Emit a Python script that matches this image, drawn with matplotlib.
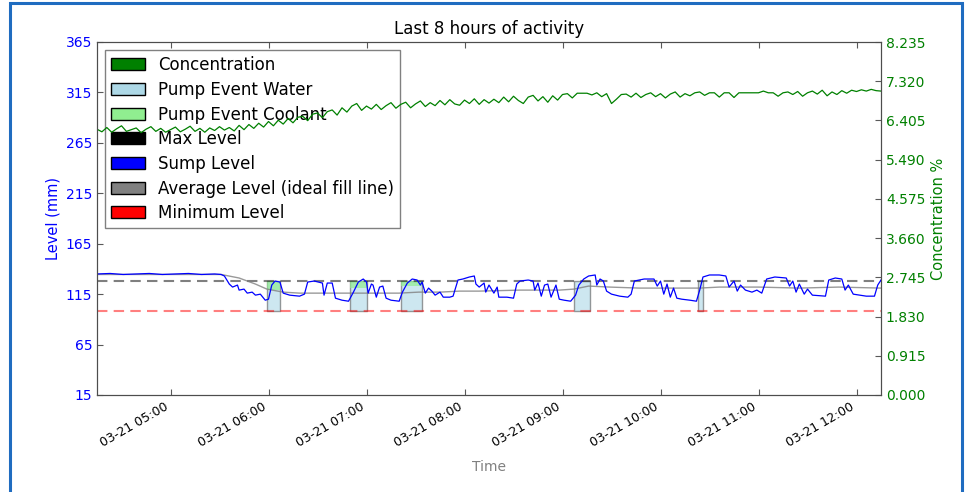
import numpy as np
import matplotlib
matplotlib.use('Agg')
import matplotlib.pyplot as plt
import matplotlib.dates as mdates
from matplotlib.patches import Patch, Rectangle

# ---------------- data ----------------
start_time = np.datetime64('2017-03-21T04:15')

# sump level knots (minutes after 04:15, mm)
sump_minutes = [0, 8, 16, 24, 32, 40, 48, 56, 64, 72, 76, 78, 81, 83, 86, 87, 90, 92, 95, 97,
                100, 103, 105, 107, 109, 112, 114, 118, 124, 127, 129, 133, 138, 139, 141, 144,
                146, 150, 154, 157, 160, 163, 165, 166, 168, 169, 171, 173, 175, 177, 180, 185,
                187, 190, 193, 196, 198, 199, 201, 203, 205, 207, 210, 212, 216, 218, 221, 224,
                228, 231, 232, 234, 237, 238, 240, 243, 245, 246, 251, 255, 257, 259, 264, 267,
                268, 270, 272, 274, 276, 278, 281, 283, 286, 290, 293, 295, 298, 301, 305, 306,
                308, 310, 312, 315, 320, 325, 327, 329, 335, 341, 343, 345, 347, 349, 351, 353,
                355, 358, 363, 367, 369, 371, 375, 381, 385, 387, 390, 392, 394, 397, 401, 404,
                407, 410, 415, 422, 424, 426, 428, 430, 433, 435, 438, 446, 448, 452, 456, 458,
                460, 463, 467, 471, 476, 478, 480]
sump_level = [135, 135.5, 134.5, 135, 135.5, 134.5, 135, 135.5, 134.5, 135, 134.5, 133, 125, 122,
              124, 119, 120, 116, 117, 114, 115, 109, 110, 124, 128, 127, 116, 114, 113, 115, 127,
              128, 126, 114, 126, 126, 111, 109, 108, 117, 127, 130, 127, 116, 125, 124, 112, 122,
              123, 111, 109, 108, 117, 126, 130, 129, 124, 127, 116, 121, 118, 114, 117, 112, 112,
              113, 129, 130, 132, 133, 125, 122, 126, 117, 124, 116, 122, 112, 112, 111, 125, 128,
              129, 128, 119, 126, 113, 124, 125, 112, 124, 110, 109, 108, 114, 124, 130, 133, 134,
              124, 130, 128, 118, 115, 113, 112, 115, 128, 130, 130, 123, 128, 115, 125, 112, 121,
              111, 110, 109, 108, 119, 132, 134, 134, 133, 122, 128, 118, 124, 119, 117, 119, 116,
              130, 132, 131, 123, 128, 117, 125, 115, 120, 114, 113, 129, 131, 130, 119, 124, 115,
              114, 113, 113, 124, 129]

# average level (ideal fill line) knots
avg_minutes = [0, 76, 87, 97, 104, 114, 124, 142, 155, 173, 185, 197, 210, 222, 234, 259, 283,
               292, 301, 314, 332, 356, 369, 381, 405, 430, 454, 480]
avg_level = [134.5, 134.5, 131, 125, 120, 117, 116, 116, 116, 116, 116, 117, 117, 118, 118, 119,
             119, 120, 123, 122, 121, 121, 121, 122, 122, 121, 122, 121]

max_level = 128
min_level = 98

# concentration %, one reading every 3 minutes from 04:15
conc_step_minutes = 3
concentration = [
    6.20, 6.14, 6.24, 6.13, 6.21, 6.28, 6.15, 6.19, 6.23, 6.12, 6.20, 6.26, 6.15, 6.22, 6.13,
    6.19, 6.25, 6.14, 6.20, 6.27, 6.15, 6.22, 6.13, 6.23, 6.17, 6.26, 6.18,
    6.24, 6.16, 6.29, 6.19, 6.31, 6.22, 6.34, 6.25, 6.38, 6.28, 6.41, 6.32, 6.45, 6.35, 6.48,
    6.50, 6.40, 6.55, 6.58, 6.47, 6.61, 6.65, 6.53, 6.70,
    6.60, 6.74, 6.80, 6.64, 6.74, 6.67, 6.78, 6.66, 6.75, 6.82, 6.69, 6.78, 6.83, 6.70, 6.79,
    6.86, 6.73, 6.82, 6.75, 6.87, 6.77, 6.89, 6.79, 6.76, 6.88, 6.80, 6.91, 6.78, 6.89, 6.81,
    6.90, 6.82, 6.95, 6.84, 6.97, 6.87, 6.80, 6.95, 6.99, 6.86, 6.96, 6.83, 6.98, 6.88, 7.01,
    7.03, 6.93, 7.04, 7.04, 7.04,
    7.00, 7.05, 6.96, 7.03, 6.80, 6.90, 7.01, 7.02, 6.95, 7.04, 6.94, 7.01, 7.05, 6.96, 7.03,
    6.93, 7.02, 7.07, 6.95, 7.03,
    6.98, 7.05, 7.07, 6.99, 7.05, 7.05, 6.95, 7.05, 7.05, 6.94, 7.05, 7.05, 7.05, 7.05, 7.05,
    7.09, 7.05, 7.05, 6.97, 7.05,
    7.07, 7.01, 7.08, 6.97, 7.05, 7.09, 7.02, 7.11, 6.98, 7.07, 7.01, 7.10, 7.04, 7.11, 7.08,
    7.12, 7.09, 7.13, 7.10, 7.09]

# pump events (minutes after 04:15)
water_start = [104, 155, 186, 292, 368]
water_end = [112, 165, 199, 302, 371]
coolant_start = [104, 155, 186]
coolant_end = [112, 165, 199]
coolant_low = [119, 121, 123]

level_ticks = [15, 65, 115, 165, 215, 265, 315, 365]
conc_ticks = [0.000, 0.915, 1.830, 2.745, 3.660, 4.575, 5.490, 6.405, 7.320, 8.235]
window_minutes = 480

legend_labels = ['Concentration', 'Pump Event Water', 'Pump Event Coolant', 'Max Level',
                 'Sump Level', 'Average Level (ideal fill line)', 'Minimum Level']
legend_colors = ['green', 'lightblue', 'lightgreen', 'black', 'blue', 'grey', 'red']


def to_time(mins):
    return start_time + (np.array(mins) * 60).astype('timedelta64[s]')


# ---------------- figure ----------------
fig = plt.figure(figsize=(9.66, 4.92), dpi=100)
ax1 = fig.add_axes([97 / 966, 1 - 395 / 492, (881 - 97) / 966, (395 - 42) / 492])
ax2 = ax1.twinx()

t0 = to_time([0])[0]
t1 = to_time([window_minutes])[0]

# pump events
for s, e in zip(water_start, water_end):
    ax1.fill_between(to_time([s, e]), [min_level, min_level], [max_level, max_level],
                     facecolor='lightblue', edgecolor='0.35', alpha=0.6, linewidth=1.0, zorder=1)
for s, e, lo in zip(coolant_start, coolant_end, coolant_low):
    ax1.fill_between(to_time([s, e]), [lo, lo], [max_level, max_level],
                     facecolor='lightgreen', edgecolor='none', alpha=0.7, linewidth=0, zorder=1.5)

ax1.plot([t0, t1], [max_level, max_level], color='black', alpha=0.5, linestyle='--',
         dashes=(5, 3), linewidth=1.5, zorder=2)
ax1.plot([t0, t1], [min_level, min_level], color='red', alpha=0.5, linestyle='--',
         dashes=(5, 3), linewidth=1.5, zorder=2)
ax1.plot(to_time(avg_minutes), avg_level, color='grey', alpha=0.8, linewidth=1.0, zorder=2.5)
ax1.plot(to_time(sump_minutes), sump_level, color='blue', linewidth=0.9, zorder=3)

conc_minutes = np.arange(len(concentration)) * conc_step_minutes
ax2.plot(to_time(conc_minutes), concentration, color='green', linewidth=0.9)

# axes setup
ax1.set_xlim(t0, t1)
ax1.set_ylim(15, 365)
ax1.set_yticks(level_ticks)
ax2.set_ylim(0, 8.235)
ax2.set_yticks(conc_ticks)
ax2.set_yticklabels(['%.3f' % v for v in conc_ticks])

ax1.xaxis.set_major_locator(mdates.HourLocator())
ax1.xaxis.set_major_formatter(mdates.DateFormatter('%m-%d %H:%M'))
for lab in ax1.get_xticklabels():
    lab.set_rotation(30)
    lab.set_ha('right')
    lab.set_fontsize(9)

ax1.tick_params(axis='x', direction='in', top=True, length=4, color='0.35')
ax1.tick_params(axis='y', direction='in', colors='blue', length=4, labelsize=10)
ax1.tick_params(axis='y', color='0.35')
ax2.tick_params(axis='y', direction='in', colors='green', length=4, labelsize=10)
ax2.tick_params(axis='y', color='0.35')

for ax in (ax1, ax2):
    for sp in ax.spines.values():
        sp.set_color('0.3')

ax1.set_ylabel('Level (mm)', color='blue', fontsize=10.5)
ax2.set_ylabel('Concentration %', color='green', fontsize=10.5)
ax1.set_xlabel('Time', color='grey', fontsize=10, labelpad=8)
ax1.set_title('Last 8 hours of activity', fontsize=12)

handles = [Patch(facecolor=c, edgecolor='black') for c in legend_colors]
leg = ax1.legend(handles, legend_labels, loc='upper left', fontsize=12, handlelength=2.0,
                 labelspacing=0.4, borderpad=0.35, fancybox=False, framealpha=1.0,
                 edgecolor='0.5', borderaxespad=0.5)
leg.get_frame().set_linewidth(1.0)

# blue frame around the whole picture
fig.patches.append(Rectangle((9.5 / 966, -0.05), (961.5 - 9.5) / 966, 1.05 - 3.0 / 492,
                             transform=fig.transFigure, fill=False, edgecolor='#1f6cc0',
                             linewidth=2.2))

fig.savefig('out.png', dpi=100)
